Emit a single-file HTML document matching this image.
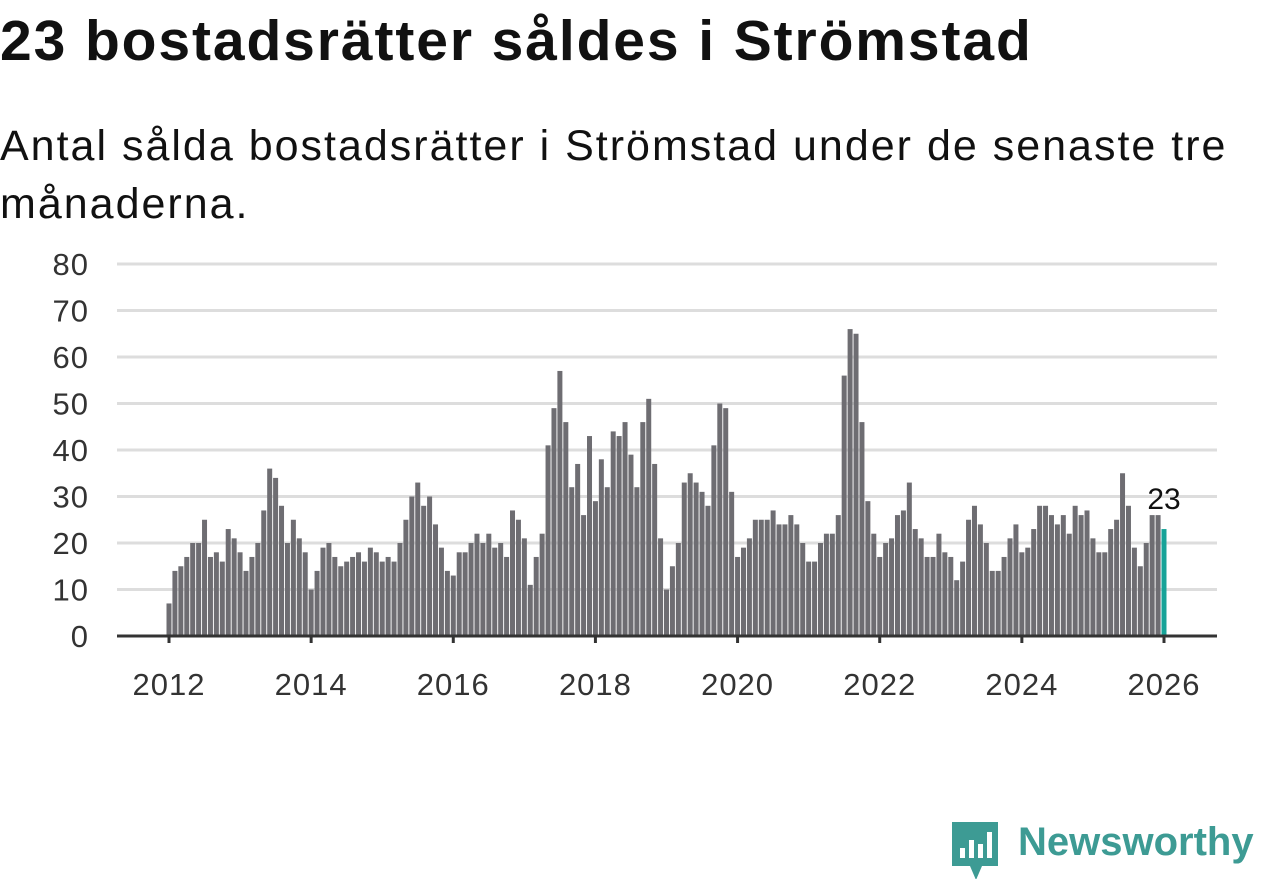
<!DOCTYPE html>
<html><head><meta charset="utf-8"><style>
body{margin:0;background:#fff;font-family:"Liberation Sans",sans-serif;}
#wrap{position:relative;width:1262px;height:879px;overflow:hidden}
h1{position:absolute;left:0;top:8px;margin:0;font-size:57px;font-weight:bold;color:#111;letter-spacing:1.9px;white-space:nowrap}
p.sub{position:absolute;left:0;top:117px;margin:0;font-size:43px;line-height:58px;color:#111;width:1262px;letter-spacing:2px;white-space:nowrap}
svg{position:absolute;left:0;top:0}
</style></head><body>
<div id="wrap">
<h1>23 bostadsrätter såldes i Strömstad</h1>
<p class="sub">Antal sålda bostadsrätter i Strömstad under de senaste tre<br>månaderna.</p>
<svg id="chart" width="1262" height="879"></svg>
<div style="position:absolute;left:950px;top:818px;height:60px;">
<svg width="52" height="62" style="position:absolute;left:0;top:2px"><path d="M2 2h46v44H32l-6 14-6-14H2z" fill="#3d9b94"/><rect x="10" y="28" width="5" height="10" fill="#fff"/><rect x="19" y="20" width="5" height="18" fill="#fff"/><rect x="28" y="24" width="5" height="14" fill="#fff"/><rect x="37" y="12" width="5" height="26" fill="#fff"/></svg>
<span style="position:absolute;left:68px;top:2px;font-size:40px;font-weight:bold;color:#3d9b94;white-space:nowrap">Newsworthy</span>
</div>
</div>
<script>
const years=["2012","2014","2016","2018","2020","2022","2024","2026"];
const yTicks=[0,10,20,30,40,50,60,70,80];
const values=[7,14,15,17,20,20,25,17,18,16,23,21,
18,14,17,20,27,36,34,28,20,25,21,18,
10,14,19,20,17,15,16,17,18,16,19,18,
16,17,16,20,25,30,33,28,30,24,19,14,
13,18,18,20,22,20,22,19,20,17,27,25,
21,11,17,22,41,49,57,46,32,37,26,43,
29,38,32,44,43,46,39,32,46,51,37,21,
10,15,20,33,35,33,31,28,41,50,49,31,
17,19,21,25,25,25,27,24,24,26,24,20,
16,16,20,22,22,26,56,66,65,46,29,22,
17,20,21,26,27,33,23,21,17,17,22,18,
17,12,16,25,28,24,20,14,14,17,21,24,
18,19,23,28,28,26,24,26,22,28,26,27,
21,18,18,23,25,35,28,19,15,20,26,26,
23];
const NS="http://www.w3.org/2000/svg";
const svg=document.getElementById('chart');
const x0=169,pxYear=(1164-169)/14;
const xm=i=>x0+i*pxYear/12;
const y=v=>636-v*(636-264)/80;
function mk(t,a){const e=document.createElementNS(NS,t);for(const k in a)e.setAttribute(k,a[k]);svg.appendChild(e);return e;}
yTicks.forEach(v=>{
 if(v>0){const g=mk('line',{x1:117,x2:1217,y1:y(v),y2:y(v),stroke:'#ddd','stroke-width':3});
 
 }
 const t=mk('text',{x:89,y:y(v)+11,'text-anchor':'end','font-size':31,fill:'#333','letter-spacing':1,'font-family':'Liberation Sans, sans-serif'});
 t.textContent=v;
 
 
});
values.forEach((v,i)=>{
 const last=i===values.length-1;
 const r=mk('rect',{x:xm(i)-2.5,y:y(v),width:5,height:y(0)-y(v),fill:last?'#17a398':'#6e6d72'});
 
 
});
const ax=mk('line',{x1:117,x2:1217,y1:636,y2:636,stroke:'#333','stroke-width':3});


years.forEach(yr=>{
 const xx=x0+(+yr-2012)*pxYear;
 const tk=mk('line',{x1:xx,x2:xx,y1:636,y2:643,stroke:'#333','stroke-width':3});
 
 
 const t=mk('text',{x:xx,y:695,'text-anchor':'middle','font-size':31,fill:'#333','letter-spacing':1,'font-family':'Liberation Sans, sans-serif'});
 t.textContent=yr;
 
 
});
const li=values.length-1;
const lab=mk('text',{x:xm(li),y:y(values[li])-20,'text-anchor':'middle','font-size':30,fill:'#111','font-family':'Liberation Sans, sans-serif'});
lab.textContent=values[li];


</script>
</body></html>
